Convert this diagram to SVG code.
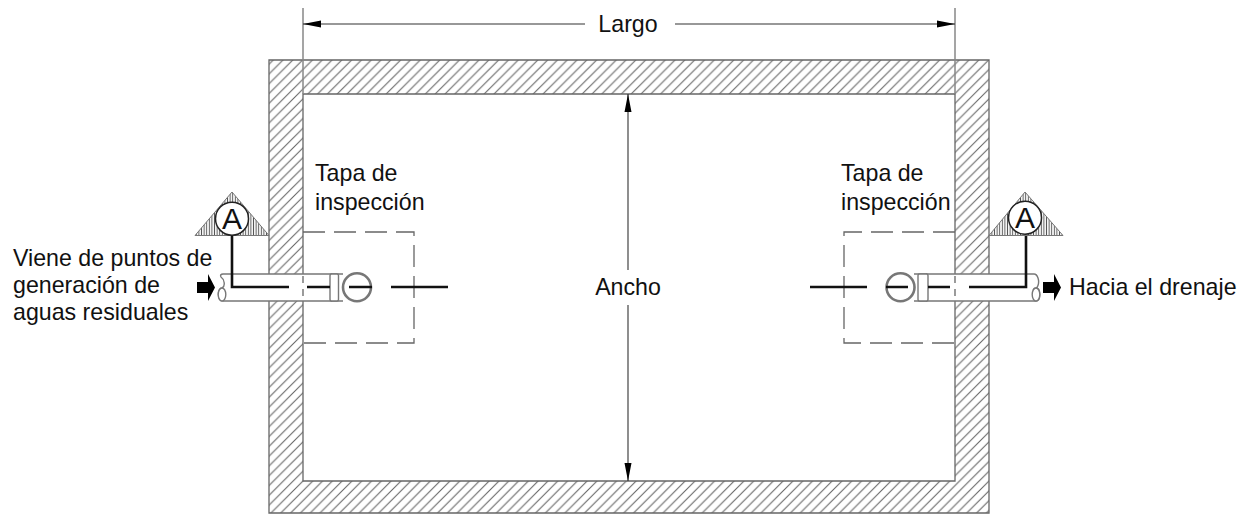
<svg xmlns="http://www.w3.org/2000/svg" width="1248" height="514" viewBox="0 0 1248 514">
<style>
text{font-family:"Liberation Sans",Arial,sans-serif;font-size:23.2px;fill:#111}
.wall{fill:none;stroke:#666;stroke-width:1.3}
.dim{fill:none;stroke:#333;stroke-width:1.1}
.ext{fill:none;stroke:#888;stroke-width:1.5}
.dash{fill:none;stroke:#666;stroke-width:1.3;stroke-dasharray:22 9}
.pipe{fill:#fff;stroke:#777;stroke-width:1.4}
.ring{fill:#fff;stroke:#777;stroke-width:2.6}
.cut{fill:none;stroke:#111;stroke-width:2.6}
.head{fill:#000}
.tri{fill:url(#vh);stroke:#777;stroke-width:1}
.bub{fill:#fff;stroke:#222;stroke-width:1.5}
.big{font-size:30px}
</style>
<defs>
<pattern id="dh" width="9.8" height="9.8" patternUnits="userSpaceOnUse">
<path d="M-2 11.800L11.800-2M-2 2L2-2M7.800 11.800L11.800 7.800" stroke="#666" stroke-width="1.1" fill="none"/>
</pattern>
<pattern id="vh" width="2.6" height="10" patternUnits="userSpaceOnUse">
<path d="M1.3 0V10" stroke="#555" stroke-width="1"/>
</pattern>
</defs>
<rect width="1248" height="514" fill="#fff"/>
<g id="muro">
<path d="M269 60H989V513H269ZM303 94V481H955V94Z" fill="url(#dh)" fill-rule="evenodd"/>
<path class="wall" d="M269 60H989V513H269ZM303 94V481H955V94Z"/>
</g>
<g id="cotas">
<path class="ext" d="M303 8V94M955 8V94"/>
<path class="dim" d="M303 24H585M675 24H955M628 94V270M628 305V481"/>
<path class="head" d="M303 24L321 20.5V27.5ZM955 24L937 20.500V27.5ZM628 94L624.5 112H631.500ZM628 481L624.5 463H631.500Z"/>
<text x="628" y="32" text-anchor="middle">Largo</text>
<text x="628" y="295" text-anchor="middle">Ancho</text>
</g>
<g id="entrada">
<path class="dash" d="M303 232H414V343H303"/>
<path class="pipe" d="M223 274H331V301H223C217 301 217 288 222 288C226 286 224 279 221 277C220 275 221 274 223 274Z"/>
<ellipse class="pipe" cx="222" cy="294.500" rx="3.800" ry="6.500"/>
<path d="M303 276V300" class="dash" style="stroke-dasharray:7 6"/>
<path class="pipe" d="M331 274H343M331 301H343"/>
<rect class="pipe" x="330" y="274" width="8.500" height="27" rx="1.500"/>
<circle class="ring" cx="357" cy="287.300" r="14"/>
<path class="head" d="M197 282H208V274L215 287.500L208 301V293H197Z"/>
</g>
<g id="salida">
<path class="dash" d="M955 232H844V343H955"/>
<path class="pipe" d="M1034 274H927V301H1036C1041 301 1041 288 1036 288C1033 288 1033 290 1034 292C1037 288 1040 284 1038 278C1037 275 1036 274 1034 274Z"/>
<ellipse class="pipe" cx="1036" cy="294.500" rx="3.800" ry="6.500"/>
<path d="M955 276V300" class="dash" style="stroke-dasharray:7 6"/>
<path class="pipe" d="M914 274H927M914 301H927"/>
<rect class="pipe" x="918" y="274" width="10" height="27" rx="1.500"/>
<circle class="ring" cx="900.500" cy="287.300" r="14"/>
<path class="head" d="M1043 282H1054V274L1061 287.500L1054 301V293H1043Z"/>
</g>
<g id="conectores">
<path class="cut" d="M232 235V287H289M307 287H330M349 287H372M391 287H448"/>
<path class="cut" d="M1026 235V287H969M950 287H928M908 287H886M867 287H810"/>
</g>
<g id="seccion-izq">
<path class="tri" d="M232 192L269 235.500H195Z"/>
<circle class="bub" cx="232" cy="218.700" r="16.500"/>
<text class="big" x="232" y="229" text-anchor="middle">A</text>
</g>
<g id="seccion-der">
<path class="tri" d="M1025 192L1063 235.500H989Z"/>
<circle class="bub" cx="1025" cy="217.700" r="16.500"/>
<text class="big" x="1025" y="228" text-anchor="middle">A</text>
</g>
<g id="etiquetas">
<text x="315" y="181">Tapa de</text>
<text x="315" y="210">inspección</text>
<text x="841" y="181">Tapa de</text>
<text x="841" y="210">inspección</text>
<text x="13" y="266">Viene de puntos de</text>
<text x="13" y="293">generación de</text>
<text x="13" y="320">aguas residuales</text>
<text x="1069" y="295">Hacia el drenaje</text>
</g>
</svg>
